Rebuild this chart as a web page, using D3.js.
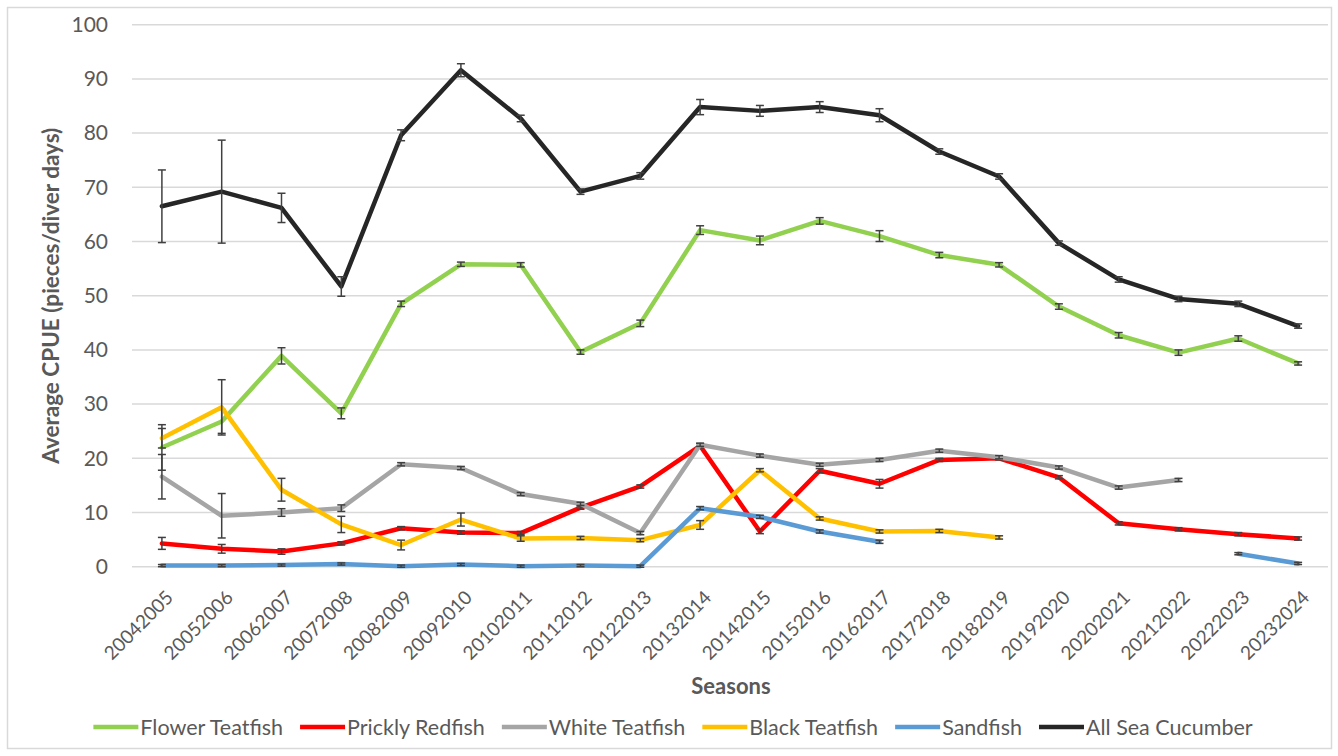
<!DOCTYPE html>
<html>
<head>
<meta charset="utf-8">
<script src="https://cdn.jsdelivr.net/npm/d3@7"></script>
<style>
  html, body { margin: 0; padding: 0; background: #fff; }
  svg { display: block; font-family: Lato, "Open Sans", sans-serif; }
</style>
</head>
<body>
<svg id="chart" width="1338" height="756"></svg>
<script>
// Seasons on the category axis
const seasons = ["20042005","20052006","20062007","20072008","20082009","20092010","20102011",
  "20112012","20122013","20132014","20142015","20152016","20162017","20172018","20182019",
  "20192020","20202021","20212022","20222023","20232024"];

// Average CPUE (pieces/diver days) per species, null where no data
const flowerTeatfish = [22.0, 26.8, 38.9, 28.3, 48.5, 55.8, 55.7, 39.6, 44.9, 62.1, 60.2, 63.8, 61.0, 57.5, 55.7, 48.0, 42.7, 39.5, 42.1, 37.5];
const flowerTeatfishErr = [4.2, 2.2, 1.5, 1.0, 0.5, 0.4, 0.4, 0.4, 0.6, 0.8, 0.8, 0.6, 1.0, 0.5, 0.4, 0.5, 0.5, 0.5, 0.5, 0.3];

const pricklyRedfish = [4.3, 3.3, 2.8, 4.3, 7.1, 6.3, 6.2, 10.9, 14.8, 22.3, 6.5, 17.7, 15.3, 19.7, 20.0, 16.5, 8.0, 6.9, 6.0, 5.2];
const pricklyRedfishErr = [1.1, 0.8, 0.5, 0.3, 0.3, 0.3, 0.3, 0.3, 0.3, 0.4, 0.4, 0.4, 0.8, 0.3, 0.3, 0.3, 0.3, 0.3, 0.3, 0.3];

const whiteTeatfish = [16.6, 9.4, 10.0, 10.8, 18.9, 18.2, 13.4, 11.6, 6.2, 22.5, 20.5, 18.8, 19.7, 21.4, 20.2, 18.3, 14.6, 16.0, null, null];
const whiteTeatfishErr = [4.1, 4.1, 0.7, 0.6, 0.3, 0.3, 0.3, 0.3, 0.3, 0.3, 0.3, 0.3, 0.3, 0.3, 0.3, 0.3, 0.3, 0.3, null, null];

const blackTeatfish = [23.7, 29.4, 14.2, 7.8, 4.0, 8.7, 5.2, 5.3, 4.9, 7.7, 17.8, 8.9, 6.5, 6.6, 5.4, null, null, null, null, null];
const blackTeatfishErr = [1.8, 5.1, 2.1, 1.5, 0.9, 1.2, 0.5, 0.3, 0.3, 0.8, 0.3, 0.3, 0.3, 0.3, 0.3, null, null, null, null, null];

const sandfish = [0.2, 0.2, 0.3, 0.5, 0.1, 0.4, 0.1, 0.2, 0.1, 10.8, 9.2, 6.5, 4.6, null, null, null, null, null, 2.4, 0.6];
const sandfishErr = [0.2, 0.2, 0.2, 0.2, 0.2, 0.2, 0.2, 0.2, 0.2, 0.3, 0.3, 0.3, 0.3, null, null, null, null, null, 0.2, 0.2];

const allSeaCucumber = [66.5, 69.2, 66.2, 51.7, 79.6, 91.6, 82.7, 69.2, 72.1, 84.8, 84.1, 84.8, 83.3, 76.6, 72.0, 59.7, 53.0, 49.4, 48.5, 44.4];
const allSeaCucumberErr = [6.7, 9.5, 2.7, 1.8, 1.0, 1.2, 0.6, 0.5, 0.6, 1.4, 1.0, 1.0, 1.2, 0.5, 0.5, 0.4, 0.5, 0.5, 0.5, 0.4];

const yTicks = [0, 10, 20, 30, 40, 50, 60, 70, 80, 90, 100];

const series = [
  { name: "Flower Teatfish",  values: flowerTeatfish,  err: flowerTeatfishErr,  color: "#92d050" },
  { name: "Prickly Redfish",  values: pricklyRedfish,  err: pricklyRedfishErr,  color: "#ff0000" },
  { name: "White Teatfish",   values: whiteTeatfish,   err: whiteTeatfishErr,   color: "#a5a5a5" },
  { name: "Black Teatfish",   values: blackTeatfish,   err: blackTeatfishErr,   color: "#ffc000" },
  { name: "Sandfish",         values: sandfish,        err: sandfishErr,        color: "#5b9bd5" },
  { name: "All Sea Cucumber", values: allSeaCucumber,  err: allSeaCucumberErr,  color: "#262626" }
];

const svg = d3.select("#chart");
const textColor = "#595959";
const gridColor = "#d9d9d9";

// chart frame
svg.append("rect")
  .attr("x", 7.5).attr("y", 7.5).attr("width", 1324).attr("height", 741)
  .attr("fill", "#fff").attr("stroke", gridColor).attr("stroke-width", 1.5);

const plot = { left: 132, right: 1328, top: 24.7, bottom: 566.7 };

const x = d3.scalePoint().domain(seasons).range([plot.left, plot.right]).padding(0.5);
const y = d3.scaleLinear().domain([0, 100]).range([plot.bottom, plot.top]);

// horizontal gridlines
svg.append("g")
  .selectAll("line")
  .data(yTicks)
  .join("line")
  .attr("x1", plot.left).attr("x2", plot.right)
  .attr("y1", d => y(d)).attr("y2", d => y(d))
  .attr("stroke", gridColor).attr("stroke-width", 1.5);

// y axis labels
const yAxis = svg.append("g")
  .attr("transform", `translate(${plot.left - 24},0)`)
  .call(d3.axisLeft(y).tickValues(yTicks).tickSize(0).tickPadding(0));
yAxis.select(".domain").remove();
yAxis.selectAll("text")
  .attr("fill", textColor)
  .style("font-family", "Lato, sans-serif")
  .style("font-size", "21px");

// x axis labels, rotated
const xAxis = svg.append("g")
  .attr("transform", `translate(0,${plot.bottom})`)
  .call(d3.axisBottom(x).tickSize(0).tickPadding(0));
xAxis.select(".domain").remove();
xAxis.selectAll("text")
  .attr("fill", textColor)
  .style("font-family", "Lato, sans-serif")
  .style("font-size", "19px")
  .attr("text-anchor", "end")
  .attr("dy", null)
  .attr("y", 0)
  .attr("transform", "translate(12,32) rotate(-45)");

// axis titles
svg.append("text")
  .attr("transform", `translate(59,${(plot.top + plot.bottom) / 2}) rotate(-90)`)
  .attr("text-anchor", "middle")
  .attr("fill", textColor)
  .style("font-size", "22.5px")
  .style("font-weight", "bold")
  .text("Average CPUE (pieces/diver days)");

svg.append("text")
  .attr("x", 731).attr("y", 694)
  .attr("text-anchor", "middle")
  .attr("fill", textColor)
  .style("font-size", "22px")
  .style("font-weight", "bold")
  .text("Seasons");

// series lines with error bars
const line = d3.line()
  .defined(d => d.v !== null)
  .x(d => x(d.s))
  .y(d => y(d.v));

series.forEach(s => {
  const pts = seasons.map((sn, i) => ({ s: sn, v: s.values[i], e: s.err[i] }));
  const g = svg.append("g");
  g.append("path")
    .datum(pts)
    .attr("d", line)
    .attr("fill", "none")
    .attr("stroke", s.color)
    .attr("stroke-width", 4.5)
    .attr("stroke-linejoin", "round")
    .attr("stroke-linecap", "round");

  const eb = g.selectAll("g.err")
    .data(pts.filter(d => d.v !== null && d.e !== null))
    .join("g").attr("class", "err")
    .attr("stroke", "#404040").attr("stroke-width", 1.5);
  eb.append("line")
    .attr("x1", d => x(d.s)).attr("x2", d => x(d.s))
    .attr("y1", d => y(d.v + d.e)).attr("y2", d => y(d.v - d.e));
  eb.append("line")
    .attr("x1", d => x(d.s) - 4).attr("x2", d => x(d.s) + 4)
    .attr("y1", d => y(d.v + d.e)).attr("y2", d => y(d.v + d.e));
  eb.append("line")
    .attr("x1", d => x(d.s) - 4).attr("x2", d => x(d.s) + 4)
    .attr("y1", d => y(d.v - d.e)).attr("y2", d => y(d.v - d.e));
});

// legend
const legend = svg.append("g");
const legendY = 727;
const items = legend.selectAll("g.item").data(series).join("g").attr("class", "item");
items.append("line")
  .attr("x1", 0).attr("x2", 45)
  .attr("y1", 0).attr("y2", 0)
  .attr("stroke", d => d.color).attr("stroke-width", 4.5);
items.append("text")
  .attr("x", 47).attr("y", 7.5)
  .attr("fill", textColor)
  .style("font-size", "21.5px")
  .text(d => d.name);

let widths = [];
items.each(function() {
  widths.push(47 + d3.select(this).select("text").node().getComputedTextLength());
});
const gap = 17;
const total = d3.sum(widths) + gap * (widths.length - 1);
let cx = 673 - total / 2;
items.attr("transform", (d, i) => {
  const t = `translate(${cx},${legendY})`;
  cx += widths[i] + gap;
  return t;
});
</script>
</body>
</html>
